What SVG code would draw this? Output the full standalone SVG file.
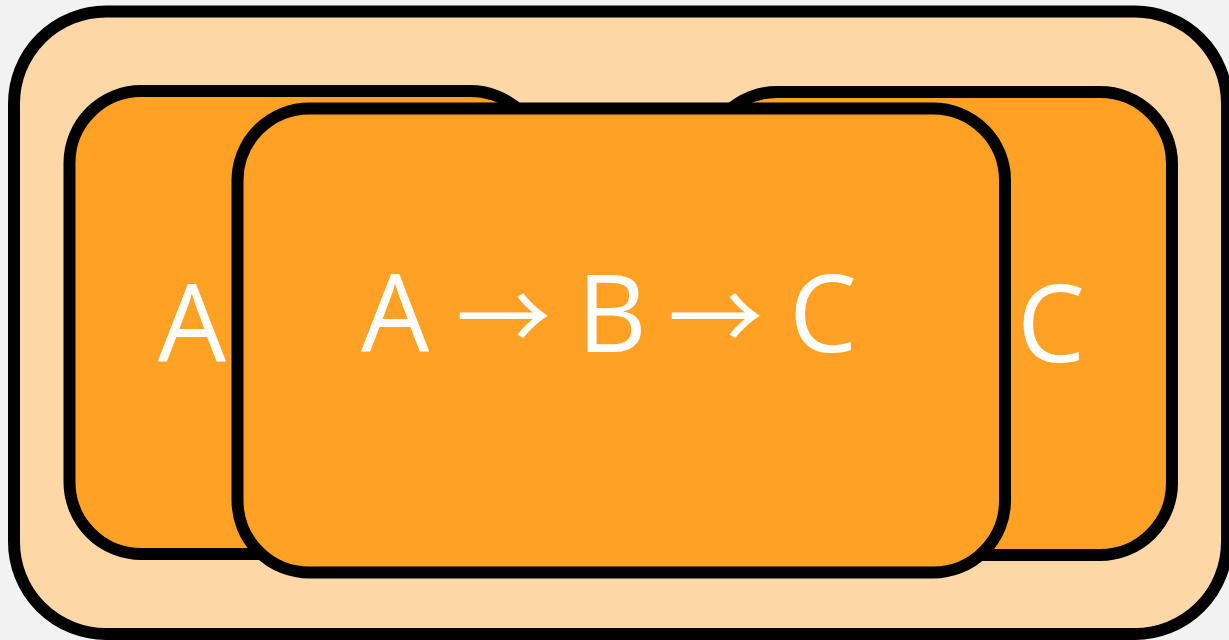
<svg xmlns="http://www.w3.org/2000/svg" width="1229" height="640" viewBox="0 0 1229 640">
  <style>
    .outer { fill: #FED7A6; stroke: #000; stroke-width: 12; }
    .card { fill: #FEA125; stroke: #000; stroke-width: 12; }
    .lbl { fill: #FFFFFF; font-family: "Open Sans", "Noto Sans", "Liberation Sans", sans-serif; font-size: 108px; text-anchor: middle; }
    .seq { text-anchor: start; }
    .arr { font-family: "Noto Sans CJK JP", "DejaVu Sans", sans-serif; font-size: 95px; }
  </style>
  <rect x="0" y="0" width="1229" height="640" fill="#F2F2F2"/>
  <g id="outer">
    <rect class="outer" x="14" y="11.5" width="1213" height="622.5" rx="92" ry="92"/>
  </g>
  <g id="card-left">
    <rect class="card" x="69.5" y="91" width="472.5" height="463" rx="72" ry="72"/>
    <text class="lbl" x="192" y="362">A</text>
  </g>
  <g id="card-right">
    <rect class="card" x="705" y="92" width="467" height="463" rx="72" ry="72"/>
    <text class="lbl" x="1051" y="362">C</text>
  </g>
  <g id="card-center">
    <rect class="card" x="237.5" y="108.5" width="767.5" height="464" rx="72" ry="72"/>
    <text class="lbl seq" y="352"><tspan x="361">A</tspan> <tspan class="arr" x="456">→</tspan> <tspan x="577">B</tspan> <tspan class="arr" x="668">→</tspan> <tspan x="789">C</tspan></text>
  </g>
  <g id="connectors"/>
</svg>
